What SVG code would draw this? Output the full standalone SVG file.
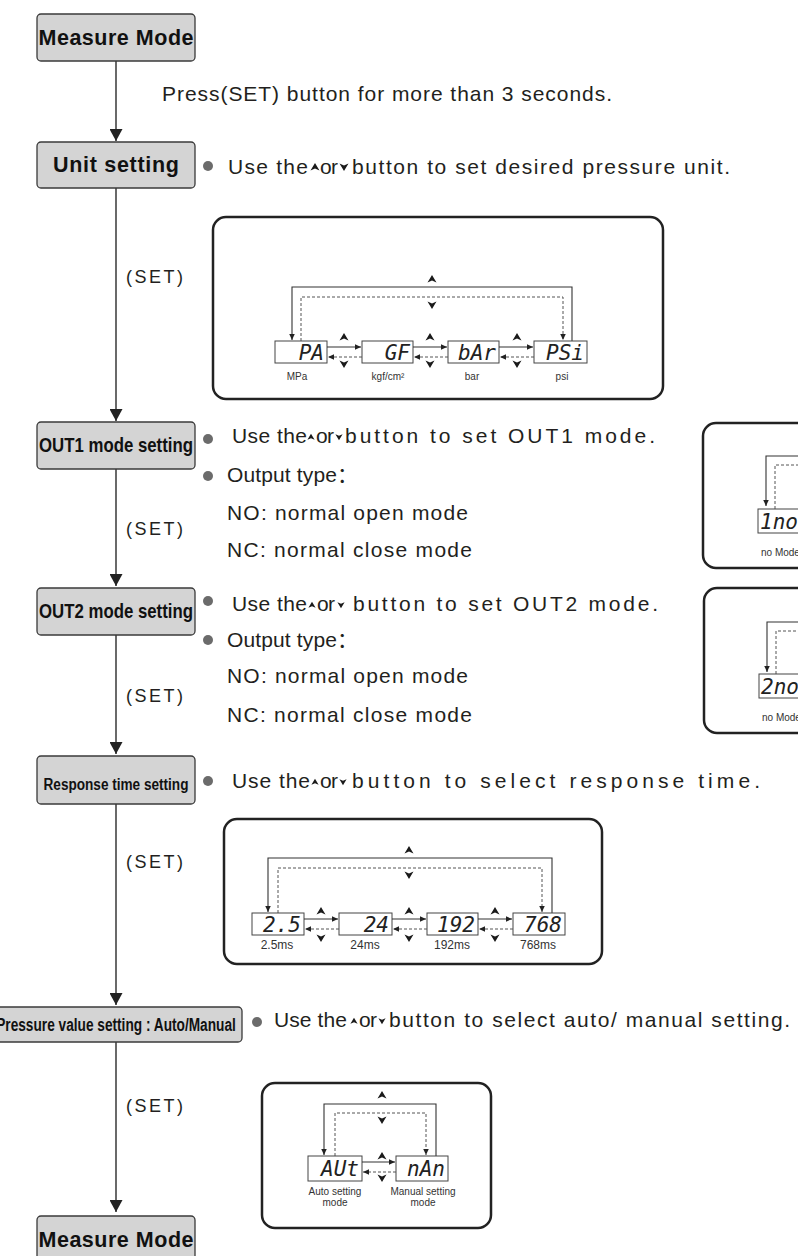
<svg xmlns="http://www.w3.org/2000/svg" xmlns:xlink="http://www.w3.org/1999/xlink" width="798" height="1256" viewBox="0 0 798 1256">
<style>
.txt{font-family:"Liberation Sans","Noto Sans CJK SC",sans-serif;font-size:21px;fill:#231f20}
.set{font-family:"Liberation Sans","Noto Sans CJK SC",sans-serif;font-size:18px;fill:#231f20}
.nb{fill:#d4d4d4;stroke:#3a3a3a;stroke-width:1.3}
.nt{font-family:"Liberation Sans",sans-serif;font-weight:bold;fill:#111;text-anchor:middle}
.panel{fill:#fff;stroke:#222;stroke-width:2.5}
.disp{fill:#fff;stroke:#444;stroke-width:1}
.seg{font-family:"DejaVu Sans Mono",monospace;font-style:italic;font-size:21px;fill:#222;text-anchor:end}
.lbl{font-family:"Liberation Sans",sans-serif;fill:#333;text-anchor:middle}
.sl{stroke:#333;stroke-width:1.1;fill:none}
.dl{stroke:#555;stroke-width:1;stroke-dasharray:3 2;fill:none}
.flow{stroke:#444;stroke-width:1.6;fill:none}
.bul{fill:#6b6b6b}
.ic{fill:#1a1a1a}
</style>
<defs>
<marker id="fa" markerUnits="userSpaceOnUse" markerWidth="13" markerHeight="13" refX="12" refY="6.5" orient="auto"><path d="M0,0 L12,6.5 L0,13 z" fill="#222"/></marker>
<marker id="sa" markerUnits="userSpaceOnUse" markerWidth="7" markerHeight="6" refX="6" refY="2.75" orient="auto"><path d="M0,0 L6,2.75 L0,5.5 z" fill="#222"/></marker>
<path id="up" d="M0,-4 L4.5,3.5 L0,1.5 L-4.5,3.5 Z"/>
<path id="dn" d="M0,4 L4.5,-3.5 L0,-1.5 L-4.5,-3.5 Z"/>
<path id="ups" d="M0,-3.2 L3.6,2.8 L0,1.2 L-3.6,2.8 Z"/>
<path id="dns" d="M0,3.2 L3.6,-2.8 L0,-1.2 L-3.6,-2.8 Z"/>
</defs>

<g id="connectors">
<path class="flow" d="M116,61 V141" marker-end="url(#fa)"/>
<path class="flow" d="M116,188 V421" marker-end="url(#fa)"/>
<path class="flow" d="M116,469 V586" marker-end="url(#fa)"/>
<path class="flow" d="M116,635 V754" marker-end="url(#fa)"/>
<path class="flow" d="M116,804 V1005" marker-end="url(#fa)"/>
<path class="flow" d="M116,1042 V1212" marker-end="url(#fa)"/>
<text class="txt" x="162" y="101" textLength="450" lengthAdjust="spacing">Press(SET) button for more than 3 seconds.</text>
<text class="set" x="126" y="283" textLength="57" lengthAdjust="spacing">(SET)</text>
<text class="set" x="126" y="535" textLength="57" lengthAdjust="spacing">(SET)</text>
<text class="set" x="126" y="702" textLength="57" lengthAdjust="spacing">(SET)</text>
<text class="set" x="126" y="868" textLength="57" lengthAdjust="spacing">(SET)</text>
<text class="set" x="126" y="1112" textLength="57" lengthAdjust="spacing">(SET)</text>
</g>

<g id="node-measure1">
<rect class="nb" x="37" y="14" width="158" height="47" rx="4"/>
<text class="nt" x="116" y="45" font-size="21.5" textLength="155" lengthAdjust="spacing">Measure Mode</text>
</g>

<g id="node-unit">
<rect class="nb" x="37" y="142" width="158" height="46" rx="4"/>
<text class="nt" x="116" y="172" font-size="21.5" textLength="126" lengthAdjust="spacing">Unit setting</text>
<circle class="bul" cx="208" cy="166" r="5"/>
<text class="txt" x="228" y="174" textLength="80" lengthAdjust="spacing">Use the</text>
<use xlink:href="#up" class="ic" x="315" y="167"/>
<text class="txt" x="320" y="174" textLength="18" lengthAdjust="spacing">or</text>
<use xlink:href="#dn" class="ic" x="344" y="167"/>
<text class="txt" x="352" y="174" textLength="378" lengthAdjust="spacing">button to  set desired pressure unit.</text>
</g>

<g id="unit-panel">
<rect class="panel" x="213" y="217" width="450" height="182" rx="13"/>
<path class="sl" d="M572,341 V287 H292 V340" marker-end="url(#sa)"/>
<path class="dl" d="M301,341 V297 H563 V340" marker-end="url(#sa)"/>
<use xlink:href="#up" class="ic" x="432" y="279"/>
<use xlink:href="#dn" class="ic" x="432" y="305"/>
<rect class="disp" x="275" y="341" width="52" height="22"/>
<rect class="disp" x="362" y="341" width="51" height="22"/>
<rect class="disp" x="448" y="341" width="51" height="22"/>
<rect class="disp" x="534" y="341" width="53" height="22"/>
<text class="seg" x="324" y="360">PA</text>
<text class="seg" x="410" y="360">GF</text>
<text class="seg" x="496" y="360">bAr</text>
<text class="seg" x="584" y="360">PSi</text>
<path class="sl" d="M327,347 H361" marker-end="url(#sa)"/>
<path class="sl" d="M413,347 H447" marker-end="url(#sa)"/>
<path class="sl" d="M499,347 H533" marker-end="url(#sa)"/>
<path class="dl" d="M362,357 H328" marker-end="url(#sa)"/>
<path class="dl" d="M448,357 H414" marker-end="url(#sa)"/>
<path class="dl" d="M534,357 H500" marker-end="url(#sa)"/>
<use xlink:href="#up" class="ic" x="344" y="337"/>
<use xlink:href="#dn" class="ic" x="344" y="364"/>
<use xlink:href="#up" class="ic" x="430" y="337"/>
<use xlink:href="#dn" class="ic" x="430" y="364"/>
<use xlink:href="#up" class="ic" x="517" y="337"/>
<use xlink:href="#dn" class="ic" x="517" y="364"/>
<text class="lbl" x="297" y="380" font-size="10">MPa</text>
<text class="lbl" x="388" y="380" font-size="10">kgf/cm²</text>
<text class="lbl" x="472" y="380" font-size="10">bar</text>
<text class="lbl" x="562" y="380" font-size="10">psi</text>
</g>

<g id="node-out1">
<rect class="nb" x="37" y="422" width="158" height="47" rx="4"/>
<text class="nt" transform="translate(116,452) scale(0.84,1)" x="0" y="0" font-size="20">OUT1 mode setting</text>
<circle class="bul" cx="208" cy="439" r="5"/>
<text class="txt" x="232" y="443" textLength="75" lengthAdjust="spacing">Use the</text>
<use xlink:href="#ups" class="ic" x="311" y="437"/>
<text class="txt" x="316" y="443" textLength="18" lengthAdjust="spacing">or</text>
<use xlink:href="#dns" class="ic" x="339" y="437"/>
<text class="txt" x="345" y="443" textLength="310" lengthAdjust="spacing">button to set OUT1 mode.</text>
<circle class="bul" cx="208" cy="476" r="5"/>
<text class="txt" x="227" y="482" textLength="131" lengthAdjust="spacing">Output type：</text>
<text class="txt" x="227" y="520" textLength="241" lengthAdjust="spacing">NO: normal open mode</text>
<text class="txt" x="227" y="557" textLength="245" lengthAdjust="spacing">NC: normal close mode</text>
</g>

<g id="out1-panel">
<rect class="panel" x="703" y="423" width="200" height="145" rx="13"/>
<path class="sl" d="M800,456 H766 V506" marker-end="url(#sa)"/>
<path class="dl" d="M775,509 V465 H800"/>
<rect class="disp" x="758" y="509" width="100" height="24"/>
<text class="seg" x="760" y="529" style="text-anchor:start">1no</text>
<text class="lbl" x="761" y="556" font-size="10" style="text-anchor:start">no Mode</text>
</g>

<g id="node-out2">
<rect class="nb" x="37" y="588" width="158" height="47" rx="4"/>
<text class="nt" transform="translate(116,618) scale(0.84,1)" x="0" y="0" font-size="20">OUT2 mode setting</text>
<circle class="bul" cx="208" cy="601" r="5"/>
<text class="txt" x="232" y="611" textLength="75" lengthAdjust="spacing">Use the</text>
<use xlink:href="#ups" class="ic" x="312" y="605"/>
<text class="txt" x="317" y="611" textLength="18" lengthAdjust="spacing">or</text>
<use xlink:href="#dns" class="ic" x="341" y="605"/>
<text class="txt" x="353" y="611" textLength="305" lengthAdjust="spacing">button to set OUT2 mode.</text>
<circle class="bul" cx="208" cy="640" r="5"/>
<text class="txt" x="227" y="647" textLength="131" lengthAdjust="spacing">Output type：</text>
<text class="txt" x="227" y="683" textLength="241" lengthAdjust="spacing">NO: normal open mode</text>
<text class="txt" x="227" y="722" textLength="245" lengthAdjust="spacing">NC: normal close mode</text>
</g>

<g id="out2-panel">
<rect class="panel" x="704" y="588" width="200" height="145" rx="13"/>
<path class="sl" d="M800,622 H767 V672" marker-end="url(#sa)"/>
<path class="dl" d="M776,674 V631 H800"/>
<rect class="disp" x="759" y="674" width="100" height="24"/>
<text class="seg" x="761" y="694" style="text-anchor:start">2no</text>
<text class="lbl" x="762" y="721" font-size="10" style="text-anchor:start">no Mode</text>
</g>

<g id="node-response">
<rect class="nb" x="37" y="756" width="158" height="48" rx="4"/>
<text class="nt" transform="translate(116,790) scale(0.8,1)" x="0" y="0" font-size="17">Response time setting</text>
<circle class="bul" cx="208" cy="781" r="5"/>
<text class="txt" x="232" y="788" textLength="78" lengthAdjust="spacing">Use the</text>
<use xlink:href="#ups" class="ic" x="315" y="782"/>
<text class="txt" x="320" y="788" textLength="18" lengthAdjust="spacing">or</text>
<use xlink:href="#dns" class="ic" x="343" y="782"/>
<text class="txt" x="352" y="788" textLength="408" lengthAdjust="spacing">button to select response time.</text>
</g>

<g id="response-panel">
<rect class="panel" x="224" y="819" width="378" height="145" rx="13"/>
<path class="sl" d="M552,913 V858 H268 V912" marker-end="url(#sa)"/>
<path class="dl" d="M278,913 V868 H542 V912" marker-end="url(#sa)"/>
<use xlink:href="#up" class="ic" x="409" y="850"/>
<use xlink:href="#dn" class="ic" x="409" y="875"/>
<rect class="disp" x="252" y="913" width="52" height="22"/>
<rect class="disp" x="339" y="913" width="53" height="22"/>
<rect class="disp" x="427" y="913" width="51" height="22"/>
<rect class="disp" x="513" y="913" width="52" height="22"/>
<text class="seg" x="301" y="932">2.5</text>
<text class="seg" x="389" y="932">24</text>
<text class="seg" x="475" y="932">192</text>
<text class="seg" x="562" y="932">768</text>
<path class="sl" d="M304,919 H338" marker-end="url(#sa)"/>
<path class="sl" d="M392,919 H426" marker-end="url(#sa)"/>
<path class="sl" d="M478,919 H512" marker-end="url(#sa)"/>
<path class="dl" d="M339,929 H305" marker-end="url(#sa)"/>
<path class="dl" d="M427,929 H393" marker-end="url(#sa)"/>
<path class="dl" d="M513,929 H479" marker-end="url(#sa)"/>
<use xlink:href="#up" class="ic" x="321" y="911"/>
<use xlink:href="#dn" class="ic" x="321" y="938"/>
<use xlink:href="#up" class="ic" x="409" y="911"/>
<use xlink:href="#dn" class="ic" x="409" y="938"/>
<use xlink:href="#up" class="ic" x="495" y="911"/>
<use xlink:href="#dn" class="ic" x="495" y="938"/>
<text class="lbl" x="277" y="949" font-size="12">2.5ms</text>
<text class="lbl" x="365" y="949" font-size="12">24ms</text>
<text class="lbl" x="452" y="949" font-size="12">192ms</text>
<text class="lbl" x="538" y="949" font-size="12">768ms</text>
</g>

<g id="node-pressure">
<rect class="nb" x="-10" y="1007" width="252" height="35" rx="4"/>
<text class="nt" transform="translate(116,1031) scale(0.72,1)" x="0" y="0" font-size="19">Pressure value setting : Auto/Manual</text>
<circle class="bul" cx="257" cy="1022" r="5"/>
<text class="txt" x="274" y="1027" textLength="73" lengthAdjust="spacing">Use the</text>
<use xlink:href="#ups" class="ic" x="354" y="1021"/>
<text class="txt" x="359" y="1027" textLength="18" lengthAdjust="spacing">or</text>
<use xlink:href="#dns" class="ic" x="382" y="1021"/>
<text class="txt" x="389" y="1027" textLength="401" lengthAdjust="spacing">button to select auto/ manual setting.</text>
</g>

<g id="auto-panel">
<rect class="panel" x="262" y="1083" width="229" height="145" rx="13"/>
<path class="sl" d="M436,1156 V1104 H324 V1155" marker-end="url(#sa)"/>
<path class="dl" d="M335,1156 V1113 H426 V1155" marker-end="url(#sa)"/>
<use xlink:href="#up" class="ic" x="382" y="1095"/>
<use xlink:href="#dn" class="ic" x="382" y="1120"/>
<rect class="disp" x="308" y="1156" width="54" height="25"/>
<rect class="disp" x="396" y="1156" width="52" height="25"/>
<text class="seg" x="359" y="1176">AUt</text>
<text class="seg" x="445" y="1176">nAn</text>
<path class="sl" d="M362,1162 H395" marker-end="url(#sa)"/>
<path class="dl" d="M396,1172 H363" marker-end="url(#sa)"/>
<use xlink:href="#up" class="ic" x="382" y="1156"/>
<use xlink:href="#dn" class="ic" x="382" y="1178"/>
<text class="lbl" x="335" y="1195" font-size="10">Auto setting</text>
<text class="lbl" x="335" y="1206" font-size="10">mode</text>
<text class="lbl" x="423" y="1195" font-size="10">Manual setting</text>
<text class="lbl" x="423" y="1206" font-size="10">mode</text>
</g>

<g id="node-measure2">
<rect class="nb" x="37" y="1216" width="158" height="48" rx="4"/>
<text class="nt" x="116" y="1247" font-size="21.5" textLength="155" lengthAdjust="spacing">Measure Mode</text>
</g>
</svg>
